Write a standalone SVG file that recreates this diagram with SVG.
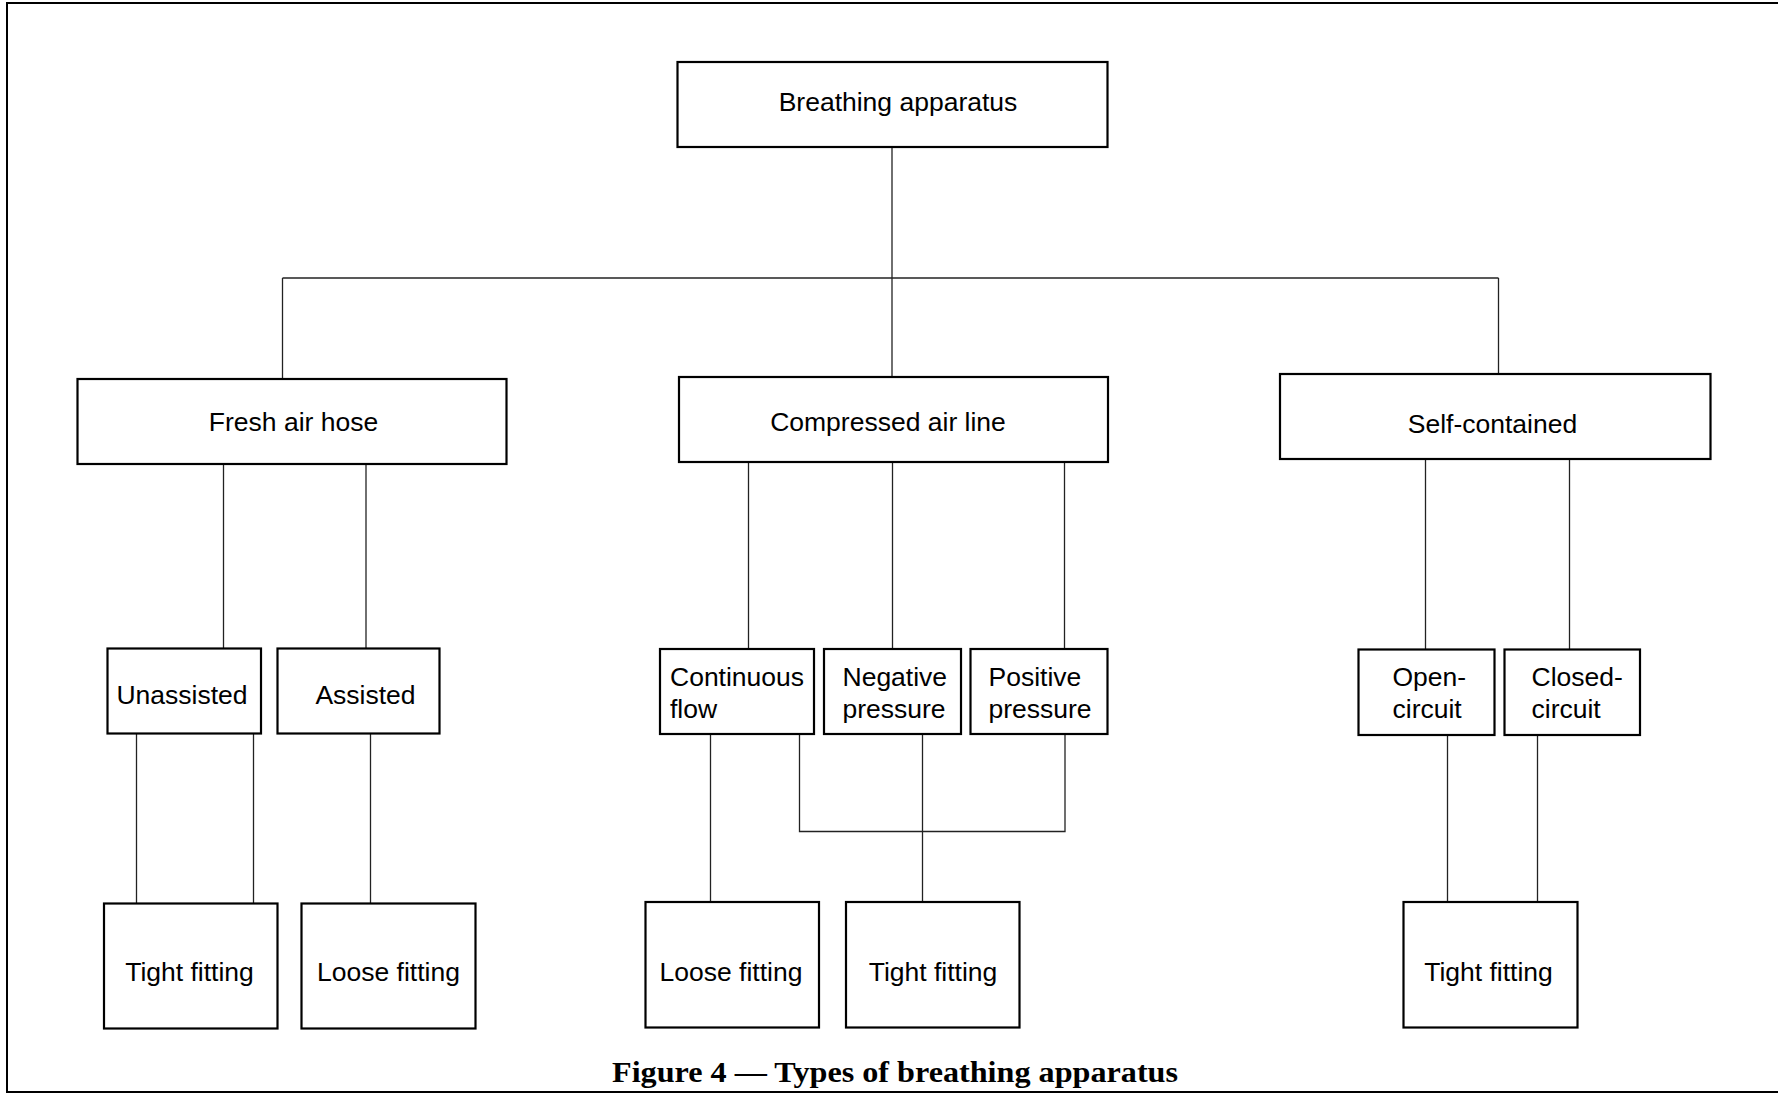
<svg xmlns="http://www.w3.org/2000/svg" width="1778" height="1094" viewBox="0 0 1778 1094">
<style>
.box{fill:#fff;stroke:#000;stroke-width:2.2}
.t{font-family:"Liberation Sans",Arial,sans-serif;font-size:26.5px;fill:#000}
.c{text-anchor:middle}
.conn line,.conn polyline{stroke:#222;stroke-width:1.3;fill:none}
.cap{font-family:"Liberation Serif","Times New Roman",serif;font-weight:bold;font-size:29px;fill:#000;text-anchor:middle}
</style>
<rect width="1778" height="1094" fill="#fff"/>
<path d="M1778 3 H7 V1092 H1778" fill="none" stroke="#000" stroke-width="2"/>
<g class="conn" id="connectors">
<line x1="892" y1="147" x2="892" y2="377"/>
<line x1="282.5" y1="278" x2="1498.5" y2="278"/>
<line x1="282.5" y1="278" x2="282.5" y2="379"/>
<line x1="1498.5" y1="278" x2="1498.5" y2="374"/>
<line x1="223.5" y1="464" x2="223.5" y2="648"/>
<line x1="366" y1="464" x2="366" y2="648"/>
<line x1="748.5" y1="462" x2="748.5" y2="649"/>
<line x1="892.5" y1="462" x2="892.5" y2="649"/>
<line x1="1064.5" y1="462" x2="1064.5" y2="649"/>
<line x1="1425.5" y1="459" x2="1425.5" y2="649"/>
<line x1="1569.5" y1="459" x2="1569.5" y2="649"/>
<line x1="136.5" y1="733" x2="136.5" y2="903"/>
<line x1="253.5" y1="733" x2="253.5" y2="903"/>
<line x1="370.5" y1="733" x2="370.5" y2="903"/>
<line x1="710.5" y1="734" x2="710.5" y2="902"/>
<polyline points="799.5,734 799.5,831.5 1065,831.5 1065,734"/>
<line x1="922.5" y1="734" x2="922.5" y2="902"/>
<line x1="1447.5" y1="735" x2="1447.5" y2="902"/>
<line x1="1537.5" y1="735" x2="1537.5" y2="902"/>
</g>
<g id="n-breathing"><rect class="box" x="677.5" y="62" width="430" height="85"/><text class="t c" x="898" y="111">Breathing apparatus</text></g>
<g id="n-fresh"><rect class="box" x="77.5" y="379" width="429" height="85"/><text class="t c" x="293.5" y="431">Fresh air hose</text></g>
<g id="n-compressed"><rect class="box" x="679" y="377" width="429" height="85"/><text class="t c" x="888" y="431">Compressed air line</text></g>
<g id="n-self"><rect class="box" x="1280" y="374" width="430.5" height="85"/><text class="t c" x="1492.5" y="433">Self-contained</text></g>
<g id="n-unassisted"><rect class="box" x="107.5" y="648.5" width="153.5" height="85"/><text class="t c" x="182" y="704">Unassisted</text></g>
<g id="n-assisted"><rect class="box" x="277.5" y="648.5" width="162" height="85"/><text class="t c" x="365.5" y="704">Assisted</text></g>
<g id="n-continuous"><rect class="box" x="660" y="649" width="154" height="85"/><text class="t" x="670" y="686">Continuous</text><text class="t" x="670" y="717.5">flow</text></g>
<g id="n-negative"><rect class="box" x="824" y="649" width="137" height="85"/><text class="t" x="842.5" y="686">Negative</text><text class="t" x="842.5" y="717.5">pressure</text></g>
<g id="n-positive"><rect class="box" x="970.5" y="649" width="137" height="85"/><text class="t" x="988.5" y="686">Positive</text><text class="t" x="988.5" y="717.5">pressure</text></g>
<g id="n-open"><rect class="box" x="1358.5" y="649.5" width="136" height="85.5"/><text class="t" x="1392.5" y="686">Open-</text><text class="t" x="1392.5" y="717.5">circuit</text></g>
<g id="n-closed"><rect class="box" x="1504.5" y="649.5" width="135.5" height="85.5"/><text class="t" x="1531.5" y="686">Closed-</text><text class="t" x="1531.5" y="717.5">circuit</text></g>
<g id="n-tight1"><rect class="box" x="104" y="903.5" width="173.5" height="125"/><text class="t c" x="189.5" y="980.5">Tight fitting</text></g>
<g id="n-loose1"><rect class="box" x="301.5" y="903.5" width="174" height="125"/><text class="t c" x="388.5" y="980.5">Loose fitting</text></g>
<g id="n-loose2"><rect class="box" x="645.5" y="902" width="173.5" height="125.5"/><text class="t c" x="731" y="980.5">Loose fitting</text></g>
<g id="n-tight2"><rect class="box" x="846" y="902" width="173.5" height="125.5"/><text class="t c" x="933" y="980.5">Tight fitting</text></g>
<g id="n-tight3"><rect class="box" x="1403.5" y="902" width="174" height="125.5"/><text class="t c" x="1488.5" y="980.5">Tight fitting</text></g>
<text class="cap" x="895" y="1082" textLength="566" lengthAdjust="spacingAndGlyphs">Figure 4 — Types of breathing apparatus</text>
</svg>
